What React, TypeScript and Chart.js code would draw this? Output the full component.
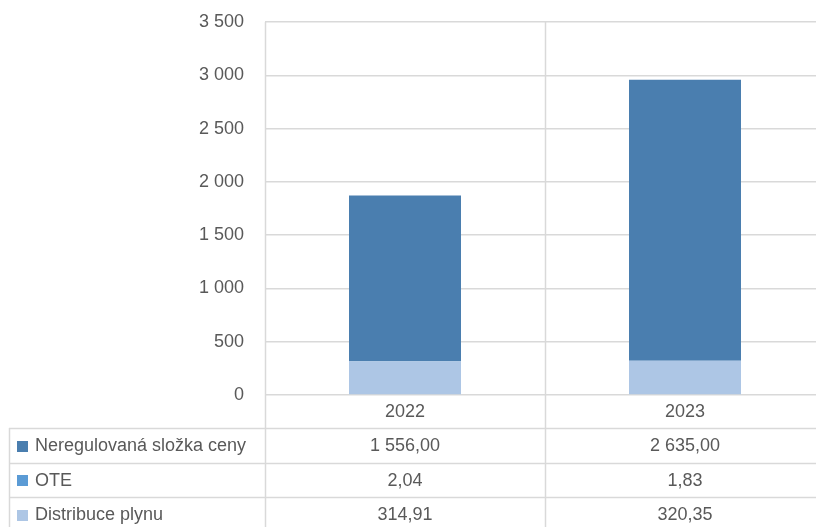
import React, { useEffect, useRef } from "react";
import { Chart, registerables } from "chart.js";

Chart.register(...registerables);

const categories = ["2022", "2023"];
const seriesNames = ["Distribuce plynu", "OTE", "Neregulovaná složka ceny"];
const distribuce = [314.91, 320.35];
const ote = [2.04, 1.83];
const neregulovana = [1556.0, 2635.0];
const seriesColors = ["#adc6e5", "#5b9bd5", "#4a7eaf"];
const yTicks = [0, 500, 1000, 1500, 2000, 2500, 3000, 3500];

const FONT = '"Liberation Sans", Arial, sans-serif';
const TEXT = "#595959";
const GRID = "#d9d9d9";

function groupThousands(s: string): string {
  return s.replace(/\B(?=(\d{3})+(?!\d))/g, " ");
}
function fmt(v: number): string {
  const [i, d] = v.toFixed(2).split(".");
  return groupThousands(i) + "," + d;
}

const tablePlugin = {
  id: "dataTable",
  afterDraw(chart: any) {
    const ctx = chart.ctx as CanvasRenderingContext2D;
    const xs = chart.scales.x;
    const area = chart.chartArea;
    const n = categories.length;
    const catW = xs.getPixelForValue(1) - xs.getPixelForValue(0);
    const H = chart.height;
    const headerBottom = area.bottom + 33;
    const rowH = 34.5;
    const tableLeft = 9;
    const rows = [
      { name: seriesNames[2], data: neregulovana, color: seriesColors[2] },
      { name: seriesNames[1], data: ote, color: seriesColors[1] },
      { name: seriesNames[0], data: distribuce, color: seriesColors[0] },
    ];
    ctx.save();
    ctx.strokeStyle = GRID;
    ctx.lineWidth = 1.5;
    for (let i = 0; i <= n; i++) {
      const x = Math.round(xs.getPixelForValue(0) - catW / 2 + i * catW) + 0.5;
      ctx.beginPath();
      ctx.moveTo(x, area.top);
      ctx.lineTo(x, H);
      ctx.stroke();
    }
    ctx.beginPath();
    ctx.moveTo(tableLeft + 0.5, headerBottom);
    ctx.lineTo(tableLeft + 0.5, H);
    ctx.stroke();
    for (let r = 0; r <= rows.length; r++) {
      const y = Math.round(headerBottom + r * rowH) + 0.5;
      ctx.beginPath();
      ctx.moveTo(tableLeft, y);
      ctx.lineTo(chart.width, y);
      ctx.stroke();
    }
    ctx.font = "18px " + FONT;
    ctx.fillStyle = TEXT;
    ctx.textBaseline = "middle";
    ctx.textAlign = "center";
    categories.forEach((c, i) => {
      ctx.fillText(c, xs.getPixelForValue(i), (area.bottom + headerBottom) / 2 + 1);
    });
    rows.forEach((row, r) => {
      const cy = headerBottom + r * rowH + rowH / 2 + 1;
      ctx.fillStyle = row.color;
      ctx.fillRect(17, Math.round(cy - 5.5), 11, 11);
      ctx.fillStyle = TEXT;
      ctx.textAlign = "left";
      ctx.fillText(row.name, 35, cy);
      ctx.textAlign = "center";
      row.data.forEach((v, i) => {
        ctx.fillText(fmt(v), xs.getPixelForValue(i), cy);
      });
    });
    ctx.restore();
  },
};

export default function App() {
  const ref = useRef<HTMLCanvasElement>(null);
  useEffect(() => {
    if (!ref.current) return;
    const chart = new Chart(ref.current, {
      type: "bar",
      data: {
        labels: categories,
        datasets: [
          { label: seriesNames[0], data: distribuce, backgroundColor: seriesColors[0] },
          { label: seriesNames[1], data: ote, backgroundColor: seriesColors[1] },
          { label: seriesNames[2], data: neregulovana, backgroundColor: seriesColors[2] },
        ],
      },
      options: {
        responsive: false,
        animation: false,
        layout: { padding: { top: 22, bottom: 132, right: 1, left: 0 } },
        datasets: { bar: { barPercentage: 0.4, categoryPercentage: 1.0 } },
        plugins: { legend: { display: false }, tooltip: { enabled: false } },
        scales: {
          x: {
            stacked: true,
            display: false,
            offset: true,
            grid: { display: false },
          },
          y: {
            stacked: true,
            min: 0,
            max: 3500,
            afterBuildTicks: (scale: any) => {
              scale.ticks = yTicks.map((v) => ({ value: v }));
            },
            afterFit: (scale: any) => {
              scale.width = 265;
              scale.paddingTop = 0;
              scale.paddingBottom = 0;
            },
            border: { display: false },
            grid: { color: GRID, lineWidth: 1.5, drawTicks: false },
            ticks: {
              padding: 21,
              color: TEXT,
              font: { family: FONT, size: 18 },
              callback: (v: any) => groupThousands(String(v)),
            },
          },
        },
      },
      plugins: [tablePlugin],
    });
    return () => chart.destroy();
  }, []);
  return (
    <div style={{ position: "fixed", left: 0, top: 0, width: 816, height: 527, overflow: "hidden", background: "#fff" }}>
      <canvas ref={ref} width={826} height={527} style={{ display: "block" }} />
    </div>
  );
}
